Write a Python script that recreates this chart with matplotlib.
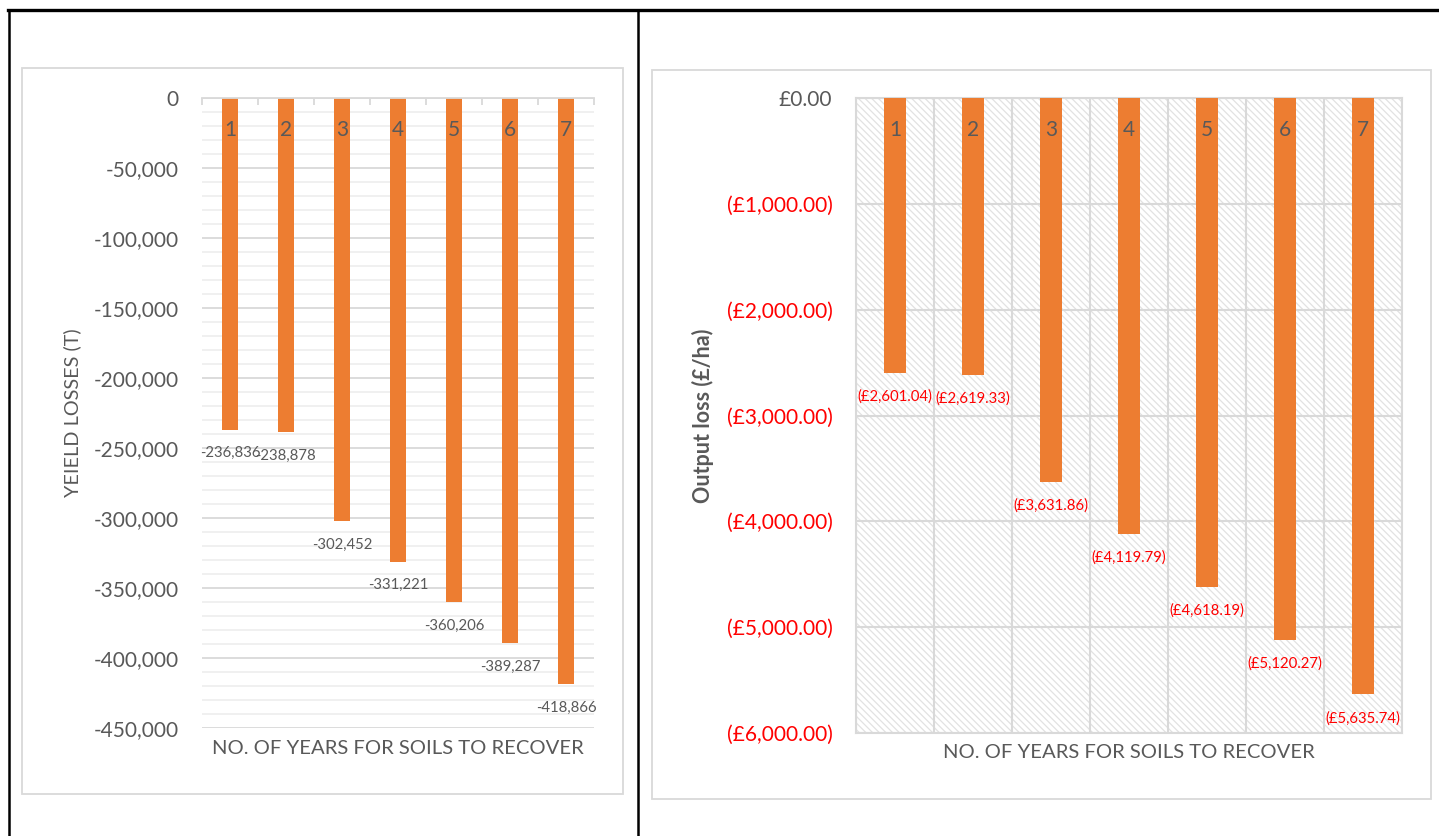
import matplotlib
matplotlib.use("Agg")
import matplotlib.pyplot as plt
from matplotlib.patches import Rectangle
from matplotlib.lines import Line2D
from matplotlib.ticker import FuncFormatter, MultipleLocator

# ---- data ----
years = [1, 2, 3, 4, 5, 6, 7]
year_labels = ["1", "2", "3", "4", "5", "6", "7"]
yield_losses = [-236836, -238878, -302452, -331221, -360206, -389287, -418866]
output_loss = [-2601.04, -2619.33, -3631.86, -4119.79, -4618.19, -5120.27, -5635.74]

yield_ticks = list(range(0, -450001, -50000))
output_ticks = list(range(0, -6001, -1000))

x_title = "NO. OF YEARS FOR SOILS TO RECOVER"
left_ylabel = "YEIELD LOSSES (T)"
right_ylabel = "Output loss (£/ha)"

# ---- style ----
plt.rcParams["font.family"] = ["Lato", "DejaVu Sans"]
plt.rcParams["hatch.linewidth"] = 0.9
ORANGE = "#ed7d31"
GREY_TXT = "#595959"
GRID = "#d9d9d9"
MINOR = "#efefef"
RED = "#ff0000"

W, H = 1439, 836
fig = plt.figure(figsize=(W / 100, H / 100), dpi=100)


def fx(px):
    return px / W


def fy(py):
    return 1 - py / H


def axes_rect(x0, y0, x1, y1):
    return [fx(x0), fy(y1), fx(x1) - fx(x0), fy(y0) - fy(y1)]


# ---- page borders ----
fig.add_artist(Line2D([fx(8), 1], [fy(10), fy(10)], color="black", lw=2.4))
fig.add_artist(Line2D([fx(8.5), fx(8.5)], [0, fy(10)], color="black", lw=1.8))
fig.add_artist(Line2D([fx(637.5), fx(637.5)], [0, fy(10)], color="black", lw=1.8))

# chart frames
for (x0, y0, x1, y1) in [(22, 68, 623, 794), (652, 70, 1431, 799)]:
    fig.add_artist(Rectangle((fx(x0), fy(y1)), fx(x1) - fx(x0), fy(y0) - fy(y1),
                             transform=fig.transFigure, facecolor="none",
                             edgecolor=GRID, lw=1.3))

# ================= left chart =================
ax1 = fig.add_axes(axes_rect(202, 98, 594, 728))
ax1.set_xlim(0.5, 7.5)
ax1.set_ylim(-450000, 0)
ax1.bar(years, yield_losses, width=0.27, color=ORANGE, zorder=3)

ax1.set_yticks(yield_ticks)
ax1.yaxis.set_minor_locator(MultipleLocator(10000))
ax1.yaxis.set_major_formatter(FuncFormatter(lambda v, p: f"{int(v):,}"))
ax1.tick_params(axis="y", which="both", length=0, pad=17, labelsize=15,
                labelcolor=GREY_TXT)
ax1.grid(axis="y", which="major", color=GRID, lw=1.3, zorder=1)
ax1.grid(axis="y", which="minor", color=MINOR, lw=1.3, zorder=0)
for s in ["left", "right", "bottom"]:
    ax1.spines[s].set_visible(False)
ax1.spines["top"].set_color(GRID)
ax1.spines["top"].set_linewidth(1.3)
ax1.spines["top"].set_zorder(4)
ax1.xaxis.tick_top()
ax1.set_xticks([i + 0.5 for i in range(0, 8)])
ax1.set_xticklabels([])
ax1.tick_params(axis="x", direction="in", length=5, width=1.3, color=GRID)

for x, lab in zip(years, year_labels):
    ax1.annotate(lab, (x, 0), xytext=(0, -23), textcoords="offset points",
                 ha="center", va="center", fontsize=15, color=GREY_TXT, zorder=5)
for x, v in zip(years, yield_losses):
    ax1.annotate(f"{v:,}", (x, v), xytext=(0, -17), textcoords="offset points",
                 ha="center", va="center", fontsize=10.7, color=GREY_TXT, zorder=5)

ax1.text(0.5, -0.032, x_title, transform=ax1.transAxes, ha="center", va="center",
         fontsize=14.6, color=GREY_TXT)
ax1.text(-0.332, 0.5, left_ylabel, transform=ax1.transAxes, ha="center",
         va="center", rotation=90, fontsize=14.3, color=GREY_TXT)

# ================= right chart =================
ax2 = fig.add_axes(axes_rect(856, 98, 1402, 733))
ax2.set_xlim(0.5, 7.5)
ax2.set_ylim(-6000, 0)
ax2.add_patch(Rectangle((0, 0), 1, 1, transform=ax2.transAxes, facecolor="white",
                        edgecolor="#e2e2e2", hatch="\\\\\\\\\\", lw=0, zorder=0))
ax2.bar(years, output_loss, width=0.27, color=ORANGE, zorder=3)

ax2.set_yticks(output_ticks)


def money(v, p=None):
    return "£0.00" if v == 0 else f"(£{abs(v):,.2f})"


ax2.yaxis.set_major_formatter(FuncFormatter(money))
ax2.tick_params(axis="y", length=0, pad=17, labelsize=15)
for t, v in zip(ax2.get_yticklabels(), output_ticks):
    t.set_color(GREY_TXT if v == 0 else RED)
ax2.set_xticks([i + 0.5 for i in range(0, 8)])
ax2.set_xticklabels([])
ax2.tick_params(axis="x", length=0)
ax2.grid(True, color=GRID, lw=1.5, zorder=1)
for s in ax2.spines.values():
    s.set_color(GRID)
    s.set_linewidth(1.5)

for x, lab in zip(years, year_labels):
    ax2.annotate(lab, (x, 0), xytext=(0, -23), textcoords="offset points",
                 ha="center", va="center", fontsize=15, color=GREY_TXT, zorder=5)
for x, v in zip(years, output_loss):
    ax2.annotate(money(v), (x, v), xytext=(0, -17), textcoords="offset points",
                 ha="center", va="center", fontsize=10.7, color=RED, zorder=5)

ax2.text(0.5, -0.030, x_title, transform=ax2.transAxes, ha="center", va="center",
         fontsize=14.6, color=GREY_TXT)
ax2.text(-0.280, 0.5, right_ylabel, transform=ax2.transAxes, ha="center",
         va="center", rotation=90, fontsize=15.5, fontweight="bold", color=GREY_TXT)

fig.savefig("out.png", dpi=100, facecolor="white")
